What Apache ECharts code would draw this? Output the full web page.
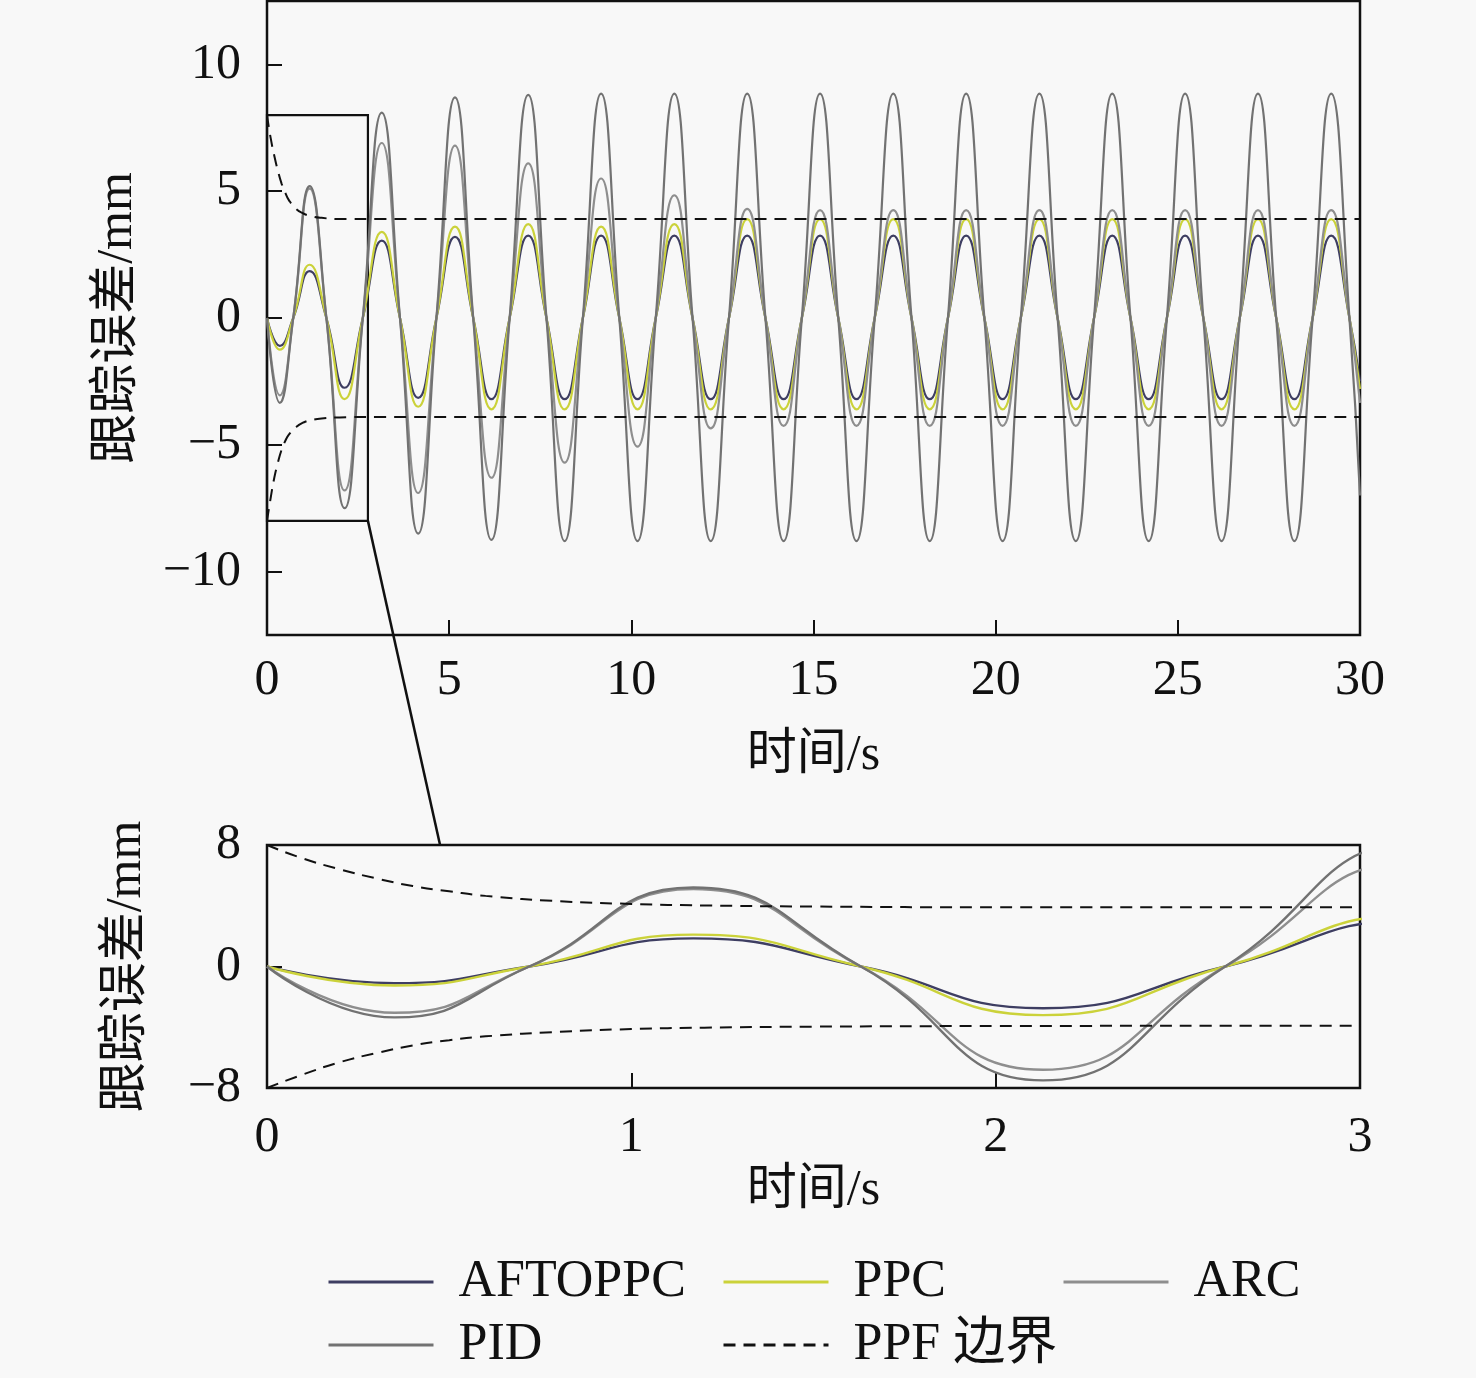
<!DOCTYPE html>
<html>
<head>
<meta charset="utf-8">
<script src="https://cdn.jsdelivr.net/npm/echarts@6/dist/echarts.min.js"></script>
<style>
html,body{margin:0;padding:0;background:#f8f8f8;}
#c{width:1476px;height:1378px;}
</style>
</head>
<body>
<div id="c"></div>
<script>
// key instants (s): start, extrema and zero crossings
const tKey = [0,0.35,0.72,1.17,1.63,2.13,2.63,
  3.15,3.65, 4.15,4.65, 5.16,5.66, 6.16,6.66, 7.17,7.67, 8.17,8.67, 9.17,9.67,
  10.17,10.67, 11.18,11.68, 12.18,12.68, 13.18,13.68, 14.18,14.68, 15.18,15.68,
  16.18,16.68, 17.19,17.69, 18.19,18.69, 19.19,19.69, 20.19,20.69, 21.2,21.7,
  22.2,22.7, 23.2,23.7, 24.2,24.7, 25.2,25.7, 26.2,26.7, 27.2,27.7, 28.2,28.7,
  29.21,29.71, 30];

const aftoppc = [0,-1.1,0,1.85,0,-2.75,0,
  3.05,0, -3.15,0, 3.2,0, -3.2,0, 3.25,0, -3.2,0, 3.25,0,
  -3.2,0, 3.25,0, -3.2,0, 3.25,0, -3.2,0, 3.25,0,
  -3.2,0, 3.25,0, -3.2,0, 3.25,0, -3.2,0, 3.25,0,
  -3.2,0, 3.25,0, -3.2,0, 3.25,0, -3.2,0, 3.25,0, -3.2,0,
  3.25,0, -2.5];

const ppc = [0,-1.25,0,2.1,0,-3.2,0,
  3.4,0, -3.5,0, 3.6,0, -3.6,0, 3.7,0, -3.6,0, 3.6,0,
  -3.6,0, 3.7,0, -3.6,0, 3.9,0, -3.6,0, 3.9,0,
  -3.6,0, 3.9,0, -3.6,0, 3.9,0, -3.6,0, 3.9,0,
  -3.6,0, 3.9,0, -3.6,0, 3.9,0, -3.6,0, 3.9,0, -3.6,0,
  3.9,0, -2.8];

const arc = [0,-3.05,0,5.1,0,-6.8,0,
  6.9,0, -6.9,0, 6.8,0, -6.3,0, 6.1,0, -5.7,0, 5.5,0,
  -5.07,0, 4.84,0, -4.35,0, 4.3,0, -4.25,0, 4.25,0,
  -4.25,0, 4.25,0, -4.25,0, 4.25,0, -4.25,0, 4.25,0,
  -4.25,0, 4.25,0, -4.25,0, 4.25,0, -4.25,0, 4.25,0, -4.25,0,
  4.25,0, -3.35];

const pid = [0,-3.35,0,5.2,0,-7.5,0,
  8.1,0, -8.5,0, 8.7,0, -8.75,0, 8.8,0, -8.8,0, 8.85,0,
  -8.8,0, 8.85,0, -8.8,0, 8.85,0, -8.8,0, 8.85,0,
  -8.8,0, 8.85,0, -8.8,0, 8.85,0, -8.8,0, 8.85,0,
  -8.8,0, 8.85,0, -8.8,0, 8.85,0, -8.8,0, 8.85,0, -8.8,0,
  8.85,0, -7.0];

// prescribed performance function bounds
const tBound = [0,0.1,0.2,0.3,0.4,0.5,0.6,0.8,1.0,1.2,1.5,2,3,30];
const boundUpper = [8.0,7.1,6.4,5.8,5.3,4.95,4.65,4.3,4.12,4.02,3.95,3.9,3.9,3.9];
const boundLower = [-8.0,-7.1,-6.3,-5.7,-5.2,-4.85,-4.6,-4.3,-4.12,-4.03,-3.96,-3.92,-3.9,-3.9];

// tick labels
const topYTicks = [-10,-5,0,5,10];
const topXTicks = [0,5,10,15,20,25,30];
const botYTicks = [-8,0,8];
const botXTicks = [0,1,2,3];

// zoom window drawn on the upper chart and its connector target on the lower chart
const zoomT = [0, 2.77];
const zoomY = [-8, 8];
const connectT = 0.475;

const colors = {AFTOPPC:'#3e3e62', PPC:'#cbd23a', ARC:'#8e8e8e', PID:'#727272', 'PPF 边界':'#111111'};

const FONT = "'Liberation Serif','Times New Roman','Noto Sans CJK SC',serif";
const minus = v => (v < 0 ? '\u2212' + Math.abs(v) : String(v));

const pairs = (xs, ys) => xs.map((x, i) => [x, ys[i]]);

function sigSeries(name, arr, idx, width) {
  return {
    name, type:'line', xAxisIndex:idx, yAxisIndex:idx,
    data: pairs(tKey, arr), smooth:true, symbol:'none', clip:true,
    lineStyle:{color:colors[name], width:width}, itemStyle:{color:colors[name]},
    emphasis:{disabled:true}, animation:false
  };
}
function boundSeries(arr, idx) {
  return {
    name:'PPF 边界', type:'line', xAxisIndex:idx, yAxisIndex:idx,
    data: pairs(tBound, arr), smooth:true, symbol:'none', clip:true,
    lineStyle:{color:'#111', width:2, type:[12,8]}, itemStyle:{color:'#111'},
    emphasis:{disabled:true}, animation:false
  };
}

const series = [];
[0,1].forEach(idx => {
  const w = idx === 0 ? 2.2 : 2.4;
  series.push(sigSeries('AFTOPPC', aftoppc, idx, w));
  series.push(sigSeries('PPC', ppc, idx, w));
  series.push(sigSeries('ARC', arc, idx, w));
  series.push(sigSeries('PID', pid, idx, w));
  series.push(boundSeries(boundUpper, idx));
  series.push(boundSeries(boundLower, idx));
});
// zoom window rectangle on the upper chart
series[0].markArea = {
  silent:true,
  itemStyle:{color:'rgba(0,0,0,0)', borderColor:'#111', borderWidth:2.2},
  data:[[{coord:[zoomT[0], zoomY[1]]},{coord:[zoomT[1], zoomY[0]]}]]
};

const axisLabelStyle = {fontFamily:FONT, fontSize:50, color:'#111'};
const nameStyle = {fontFamily:FONT, fontSize:50, color:'#111'};
const tickStyle = {show:true, inside:true, length:15, lineStyle:{color:'#111', width:2}};
const noLine = {show:false, onZero:false};

function legendAt(name, left, top) {
  return {
    left, top, padding:0, itemWidth:105, itemHeight:14, selectedMode:false,
    data:[name],
    itemStyle:{opacity:0},
    textStyle:{fontFamily:FONT, fontSize:52, color:'#111', padding:[0,0,0,20], lineHeight:56},
    lineStyle:{width:3}
  };
}

const option = {
  backgroundColor:'#f8f8f8',
  animation:false,
  grid:[
    {left:267, top:1, width:1093, height:634, show:true, borderColor:'#111', borderWidth:2.5, backgroundColor:'transparent'},
    {left:267, top:845, width:1093, height:243, show:true, borderColor:'#111', borderWidth:2.5, backgroundColor:'transparent'}
  ],
  xAxis:[
    {type:'value', gridIndex:0, min:0, max:30, interval:5,
     axisLine:noLine, splitLine:{show:false}, axisTick:Object.assign({customValues:topXTicks}, tickStyle),
     axisLabel:Object.assign({margin:21, customValues:topXTicks, formatter:minus}, axisLabelStyle),
     name:'时间/s', nameLocation:'middle', nameGap:96, nameTextStyle:nameStyle},
    {type:'value', gridIndex:1, min:0, max:3, interval:1,
     axisLine:noLine, splitLine:{show:false}, axisTick:Object.assign({customValues:botXTicks}, tickStyle),
     axisLabel:Object.assign({margin:25, customValues:botXTicks, formatter:minus}, axisLabelStyle),
     name:'时间/s', nameLocation:'middle', nameGap:78, nameTextStyle:nameStyle}
  ],
  yAxis:[
    {type:'value', gridIndex:0, min:-12.5, max:12.5,
     axisLine:noLine, splitLine:{show:false}, axisTick:Object.assign({customValues:topYTicks}, tickStyle),
     axisLabel:Object.assign({margin:26, customValues:topYTicks, formatter:minus}, axisLabelStyle),
     name:'跟踪误差/mm', nameLocation:'middle', nameGap:124, nameTextStyle:nameStyle},
    {type:'value', gridIndex:1, min:-8, max:8, interval:8,
     axisLine:noLine, splitLine:{show:false}, axisTick:Object.assign({customValues:botYTicks}, tickStyle),
     axisLabel:Object.assign({margin:26, customValues:botYTicks, formatter:minus}, axisLabelStyle),
     name:'跟踪误差/mm', nameLocation:'middle', nameGap:115, nameTextStyle:nameStyle}
  ],
  legend:[
    legendAt('AFTOPPC', 327, 1254),
    legendAt('PPC', 722, 1254),
    legendAt('ARC', 1062, 1254),
    legendAt('PID', 327, 1317),
    legendAt('PPF 边界', 722, 1317)
  ],
  series
};

const chart = echarts.init(document.getElementById('c'), null, {renderer:'canvas', width:1476, height:1378});
chart.setOption(option);

const p1 = chart.convertToPixel({gridIndex:0}, [zoomT[1], zoomY[0]]);
const p2 = chart.convertToPixel({gridIndex:1}, [connectT, zoomY[1]]);
chart.setOption({graphic:[{type:'line', silent:true, z:100,
  shape:{x1:p1[0], y1:p1[1], x2:p2[0], y2:p2[1]},
  style:{stroke:'#111', lineWidth:2.5}}]});
</script>
</body>
</html>
